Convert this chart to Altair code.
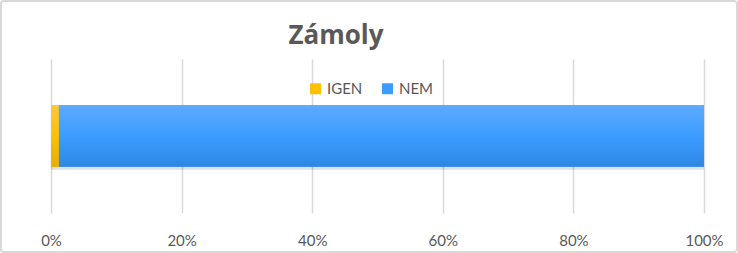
import altair as alt
import pandas as pd

title_text = "Zámoly"
categories = ["IGEN", "NEM"]
values = [1.2, 98.8]
row_label = "Zámoly"
colors = ["#FFC000", "#3D9DFF"]

df = pd.DataFrame({"cat": categories, "val": values, "row": [row_label] * len(categories), "order": [0, 1]})

grey = "#595959"
font = "Lato"

grad_blue = {"gradient": "linear", "x1": 0, "y1": 0, "x2": 0, "y2": 1,
             "stops": [{"offset": 0, "color": "#5EAAFF"}, {"offset": 0.5, "color": "#3C9CFF"},
                       {"offset": 1, "color": "#2E88E2"}]}
grad_orange = {"gradient": "linear", "x1": 0, "y1": 0, "x2": 0, "y2": 1,
               "stops": [{"offset": 0, "color": "#FFC83A"}, {"offset": 0.5, "color": "#FFC000"},
                         {"offset": 1, "color": "#E8AE00"}]}

xenc = alt.X("val:Q", stack="normalize",
             scale=alt.Scale(domain=[0, 1], nice=False),
             axis=alt.Axis(format="%", values=[0, 0.2, 0.4, 0.6, 0.8, 1.0], title=None,
                           domain=False, ticks=False, labelPadding=20, labelFontSize=15,
                           labelFont=font, labelColor=grey, grid=True, gridColor="#D9D9D9",
                           gridWidth=1.5, labelFlush=False))
yenc = alt.Y("row:N", axis=None, scale=alt.Scale(paddingInner=0.6, paddingOuter=0.3))

base = alt.Chart(df)

shadow = base.mark_bar(color="#000000", opacity=0.12).encode(
    x=xenc, y=yenc, order=alt.Order("order:Q"), yOffset=alt.value(3)
)

bars = base.mark_bar().encode(
    x=xenc, y=yenc,
    color=alt.Color("cat:N", scale=alt.Scale(domain=categories, range=colors),
                    legend=alt.Legend(title=None, orient="none", direction="horizontal",
                                      legendX=257, legendY=22, symbolType="square",
                                      symbolSize=121, symbolStrokeWidth=0,
                                      labelFont=font, labelFontSize=15, labelColor=grey,
                                      columnPadding=17, labelOffset=4)),
    order=alt.Order("order:Q"),
)

grad_bars = base.mark_bar().encode(
    x=xenc, y=yenc,
    fill=alt.condition(alt.datum.cat == "IGEN", alt.value(grad_orange), alt.value(grad_blue)),
    order=alt.Order("order:Q"),
)

one = alt.Data(values=[{"a": 1}])

title_layer = alt.Chart(one).mark_text(
    font="Open Sans", fontSize=26, fontWeight="bold", color=grey, baseline="alphabetic", align="center"
).encode(x=alt.value(336 - 51), y=alt.value(44 - 59), text=alt.value(title_text))

border = alt.Chart(one).mark_rect(filled=False, stroke="#D9D9D9", strokeWidth=2, cornerRadius=3).encode(
    x=alt.value(-50), x2=alt.value(738 - 51 - 1), y=alt.value(-58), y2=alt.value(253 - 59 - 1)
)

chart = alt.layer(border, shadow, bars, grad_bars, title_layer).properties(
    width=653, height=154,
    autosize=alt.AutoSizeParams(type="none"),
    padding={"left": 51, "top": 59, "right": 34, "bottom": 40},
    background="white",
).configure_view(stroke=None)

chart.save("out.html", embed_options={"renderer": "svg", "actions": False})
